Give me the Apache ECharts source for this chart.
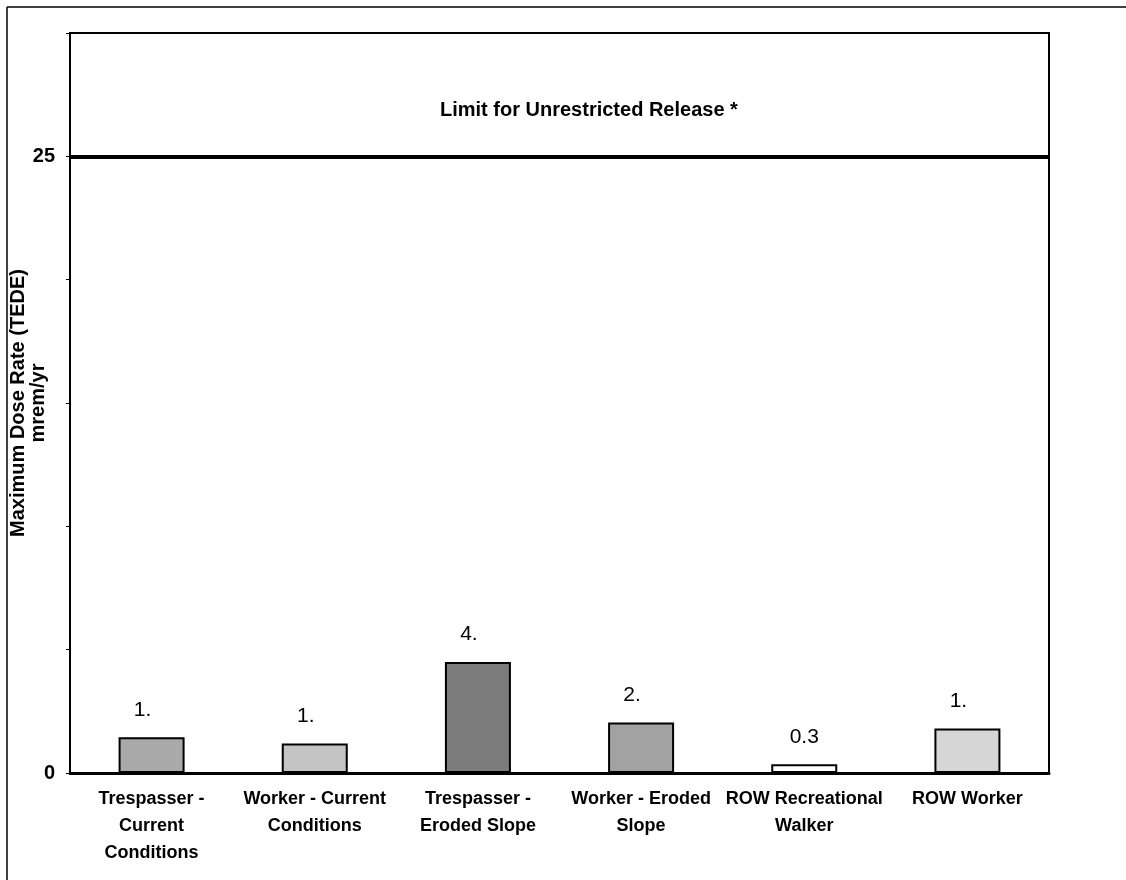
<!DOCTYPE html>
<html>
<head>
<meta charset="utf-8">
<style>
  html, body { margin: 0; padding: 0; background: #fff; }
  #main { width: 1126px; height: 880px; }
</style>
<script src="https://cdn.jsdelivr.net/npm/echarts@6/dist/echarts.min.js"></script>
</head>
<body>
<div id="main"></div>
<script>
// categories and values
const categories = [
  'Trespasser -\nCurrent\nConditions',
  'Worker - Current\nConditions',
  'Trespasser -\nEroded Slope',
  'Worker - Eroded\nSlope',
  'ROW Recreational\nWalker',
  'ROW Worker'
]
const doseValues = [1.45, 1.2, 4.5, 2.05, 0.35, 1.8]
const barLabels = ['1.', '1.', '4.', '2.', '0.3', '1.']
const barFills = ['#a9a9a9', '#c4c4c4', '#7c7c7c', '#a2a2a2', '#ffffff', '#d6d6d6']
const limitValue = 25
const yTickLabels = [0, 25]

const chart = echarts.init(document.getElementById('main'))

const font = '"Liberation Sans", Arial, sans-serif'

const option = {
  backgroundColor: '#fff',
  animation: false,
  grid: {
    left: 70, right: 77, top: 33, bottom: 107,
    containLabel: false,
    outerBoundsMode: 'none',
    show: true, borderColor: '#000', borderWidth: 2
  },
  xAxis: {
    type: 'category',
    data: categories,
    axisLine: { lineStyle: { color: '#000', width: 3 } },
    axisTick: { show: false },
    axisLabel: {
      interval: 0,
      color: '#000',
      fontFamily: font,
      fontWeight: 'bold',
      fontSize: 18,
      lineHeight: 27,
      margin: 13
    }
  },
  yAxis: {
    type: 'value',
    min: 0, max: 30, interval: 5,
    name: 'Maximum Dose Rate (TEDE)\nmrem/yr',
    nameLocation: 'middle',
    nameGap: 22,
    nameRotate: 90,
    nameMoveOverlap: false,
    nameTextStyle: {
      color: '#000', fontFamily: font, fontWeight: 'bold',
      fontSize: 20, lineHeight: 20
    },
    splitLine: { show: false },
    axisLine: { show: true, lineStyle: { color: '#000', width: 2 } },
    axisTick: { show: true, length: 4, lineStyle: { color: '#000' } },
    axisLabel: {
      color: '#000', fontFamily: font, fontWeight: 'bold', fontSize: 20, margin: 15,
      formatter: v => yTickLabels.includes(v) ? String(v) : ''
    }
  },
  series: [{
    type: 'bar',
    barWidth: 66,
    data: doseValues.map((v, i) => ({
      value: v,
      itemStyle: { color: barFills[i] },
      label: {
        formatter: barLabels[i],
        offset: [barLabels[i].length === 2 ? -9 : 0, 0]
      }
    })),
    itemStyle: { borderColor: '#000', borderWidth: 2 },
    label: {
      show: true,
      position: 'top',
      distance: 17,
      color: '#000',
      fontFamily: font,
      fontSize: 21
    },
    markLine: {
      symbol: 'none',
      silent: true,
      lineStyle: { color: '#000', width: 4, type: 'solid' },
      label: { show: false },
      data: [{ yAxis: limitValue }]
    }
  }],
  graphic: [
    {
      type: 'text', left: 440, top: 100,
      style: {
        text: 'Limit for Unrestricted Release *',
        fill: '#000', font: 'bold 20px ' + font
      }
    },
    { type: 'line', shape: { x1: 7, y1: 7, x2: 1126, y2: 7 }, style: { stroke: '#000', lineWidth: 1.5 } },
    { type: 'line', shape: { x1: 7, y1: 7, x2: 7, y2: 880 }, style: { stroke: '#000', lineWidth: 1.5 } }
  ]
}

chart.setOption(option)
</script>
</body>
</html>
